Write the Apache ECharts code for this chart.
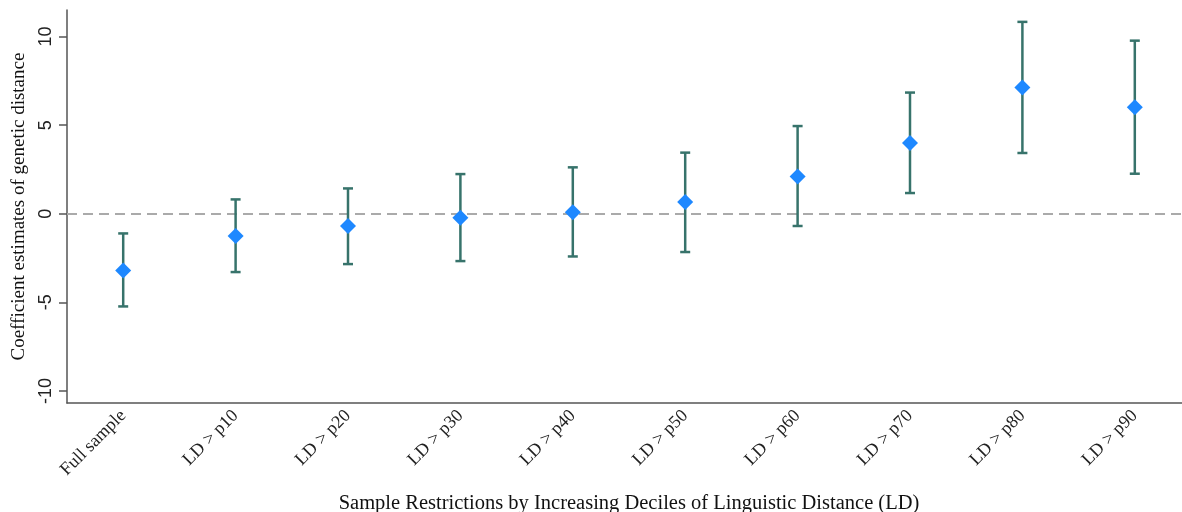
<!DOCTYPE html>
<html>
<head>
<meta charset="utf-8">
<script src="https://cdn.jsdelivr.net/npm/echarts@6/dist/echarts.min.js"></script>
<style>
html,body{margin:0;padding:0;background:#fff;}
#chart{width:1182px;height:512px;}
</style>
</head>
<body>
<div id="chart"></div>
<script>
const categories = ['Full sample','LD > p10','LD > p20','LD > p30','LD > p40','LD > p50','LD > p60','LD > p70','LD > p80','LD > p90'];
const estimates = [-3.2, -1.26, -0.69, -0.23, 0.08, 0.66, 2.11, 4.0, 7.12, 6.01];
const ciLower = [-5.23, -3.29, -2.84, -2.67, -2.41, -2.16, -0.69, 1.17, 3.43, 2.26];
const ciUpper = [-1.11, 0.81, 1.43, 2.24, 2.62, 3.45, 4.95, 6.84, 10.83, 9.77];
const yTicks = [-10, -5, 0, 5, 10];

const chart = echarts.init(document.getElementById('chart'));
const ciData = categories.map((c, i) => [i, ciLower[i], ciUpper[i]]);

chart.setOption({
  animation: false,
  backgroundColor: '#fff',
  grid: { left: 67, top: 10, width: 1124, height: 393, containLabel: false, outerBoundsMode: 'none' },
  xAxis: {
    type: 'category',
    data: categories,
    boundaryGap: true,
    name: 'Sample Restrictions by Increasing Deciles of Linguistic Distance (LD)',
    nameLocation: 'middle',
    nameGap: 90,
    nameTextStyle: { fontFamily: 'Liberation Serif', fontSize: 20.5, color: '#111' },
    axisLine: { onZero: false, lineStyle: { color: '#555', width: 1.5 } },
    axisTick: { alignWithLabel: true, length: 7, lineStyle: { color: '#555', width: 1.5 } },
    axisLabel: { rotate: 45, margin: 10, fontFamily: 'Liberation Serif', fontSize: 18, color: '#222' },
    splitLine: { show: false }
  },
  yAxis: {
    type: 'value',
    min: -10.68,
    max: 11.5,
    name: 'Coefficient estimates of genetic distance',
    nameLocation: 'middle',
    nameGap: 38,
    nameTextStyle: { fontFamily: 'Liberation Serif', fontSize: 19, color: '#111' },
    axisLine: { show: true, onZero: false, lineStyle: { color: '#555', width: 1.5 } },
    axisTick: { show: true, length: 8, customValues: yTicks, lineStyle: { color: '#555', width: 1.5 } },
    axisLabel: { rotate: 90, margin: 12, customValues: yTicks, fontFamily: 'Liberation Sans', fontSize: 18, color: '#222' },
    splitLine: { show: false }
  },
  series: [
    {
      type: 'custom',
      data: ciData,
      renderItem: function (params, api) {
        const i = api.value(0);
        const lo = api.coord([i, api.value(1)]);
        const hi = api.coord([i, api.value(2)]);
        const hw = 5;
        const style = { stroke: '#37736b', lineWidth: 2.5 };
        return {
          type: 'group',
          children: [
            { type: 'line', shape: { x1: lo[0], y1: lo[1], x2: hi[0], y2: hi[1] }, style: style },
            { type: 'line', shape: { x1: lo[0] - hw, y1: lo[1], x2: lo[0] + hw, y2: lo[1] }, style: style },
            { type: 'line', shape: { x1: hi[0] - hw, y1: hi[1], x2: hi[0] + hw, y2: hi[1] }, style: style }
          ]
        };
      },
      z: 2
    },
    {
      type: 'scatter',
      data: estimates,
      symbol: 'diamond',
      symbolSize: [16, 16],
      itemStyle: { color: '#1e88ff', opacity: 1 },
      z: 3,
      markLine: {
        silent: true,
        symbol: 'none',
        label: { show: false },
        lineStyle: { type: [10, 6], color: '#aaaaaa', width: 2 },
        data: [{ yAxis: 0 }],
        z: 1
      }
    }
  ]
});
</script>
</body>
</html>
